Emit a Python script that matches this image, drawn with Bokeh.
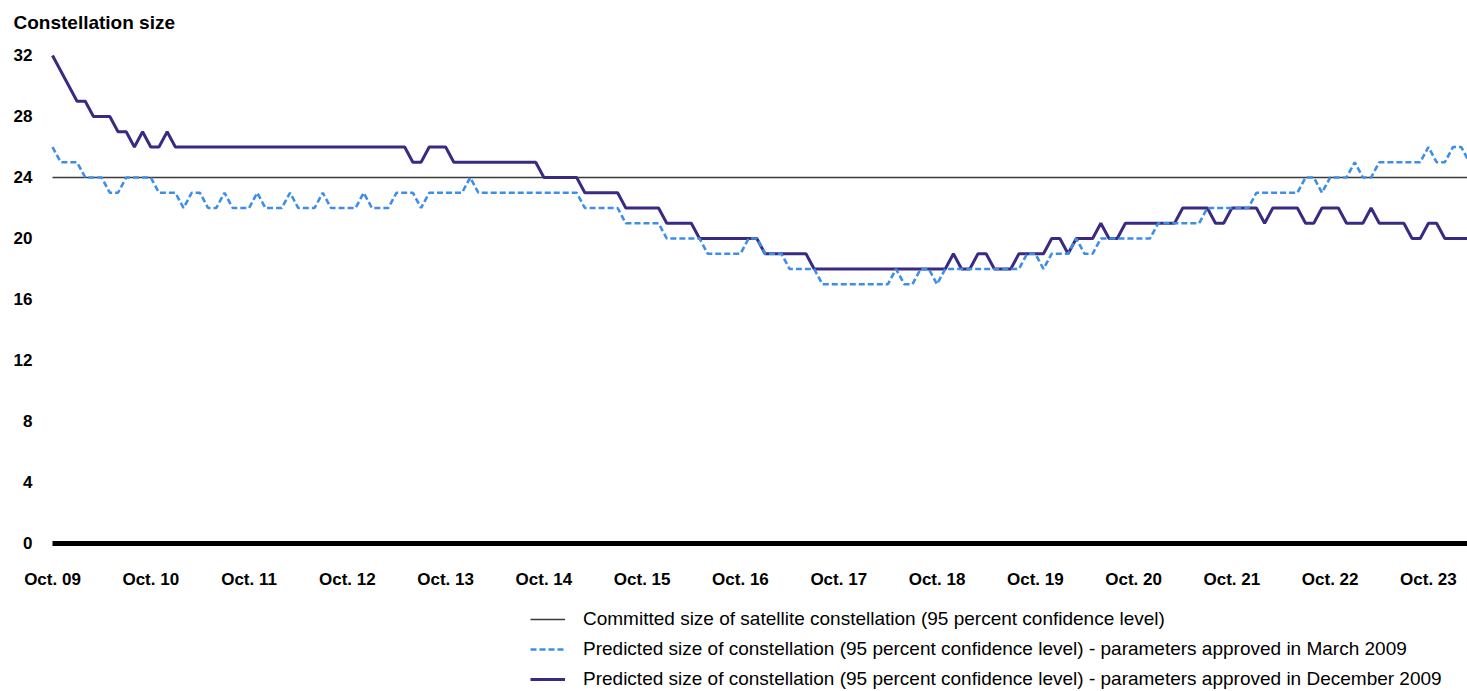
from bokeh.plotting import figure
from bokeh.models import Legend, LegendItem, Range1d
from bokeh.core.properties import value
from bokeh.embed import file_html
from bokeh.resources import INLINE

# ---- data (monthly, month 0 = October 2009) ----
tick_months = [0, 12, 24, 36, 48, 60, 72, 84, 96, 108, 120, 132, 144, 156, 168]
tick_labels = ["Oct. 09", "Oct. 10", "Oct. 11", "Oct. 12", "Oct. 13", "Oct. 14",
               "Oct. 15", "Oct. 16", "Oct. 17", "Oct. 18", "Oct. 19", "Oct. 20",
               "Oct. 21", "Oct. 22", "Oct. 23"]
y_ticks = [0, 4, 8, 12, 16, 20, 24, 28, 32]

committed_size = 24
baseline_level = 0

december_2009 = [
    32, 31, 30, 29, 29, 28, 28, 28, 27, 27,
    26, 27, 26, 26, 27, 26, 26, 26, 26, 26,
    26, 26, 26, 26, 26, 26, 26, 26, 26, 26,
    26, 26, 26, 26, 26, 26, 26, 26, 26, 26,
    26, 26, 26, 26, 25, 25, 26, 26, 26, 25,
    25, 25, 25, 25, 25, 25, 25, 25, 25, 25,
    24, 24, 24, 24, 24, 23, 23, 23, 23, 23,
    22, 22, 22, 22, 22, 21, 21, 21, 21, 20,
    20, 20, 20, 20, 20, 20, 20, 19, 19, 19,
    19, 19, 19, 18, 18, 18, 18, 18, 18, 18,
    18, 18, 18, 18, 18, 18, 18, 18, 18, 18,
    19, 18, 18, 19, 19, 18, 18, 18, 19, 19,
    19, 19, 20, 20, 19, 20, 20, 20, 21, 20,
    20, 21, 21, 21, 21, 21, 21, 21, 22, 22,
    22, 22, 21, 21, 22, 22, 22, 22, 21, 22,
    22, 22, 22, 21, 21, 22, 22, 22, 21, 21,
    21, 22, 21, 21, 21, 21, 20, 20, 21, 21,
    20, 20, 20, 20,
]

march_2009 = [
    26, 25, 25, 25, 24, 24, 24, 23, 23, 24,
    24, 24, 24, 23, 23, 23, 22, 23, 23, 22,
    22, 23, 22, 22, 22, 23, 22, 22, 22, 23,
    22, 22, 22, 23, 22, 22, 22, 22, 23, 22,
    22, 22, 23, 23, 23, 22, 23, 23, 23, 23,
    23, 24, 23, 23, 23, 23, 23, 23, 23, 23,
    23, 23, 23, 23, 23, 22, 22, 22, 22, 22,
    21, 21, 21, 21, 21, 20, 20, 20, 20, 20,
    19, 19, 19, 19, 19, 20, 20, 19, 19, 19,
    18, 18, 18, 18, 17, 17, 17, 17, 17, 17,
    17, 17, 17, 18, 17, 17, 18, 18, 17, 18,
    18, 18, 18, 18, 18, 18, 18, 18, 18, 19,
    19, 18, 19, 19, 19, 20, 19, 19, 20, 20,
    20, 20, 20, 20, 20, 21, 21, 21, 21, 21,
    21, 22, 22, 22, 22, 22, 22, 23, 23, 23,
    23, 23, 23, 24, 24, 23, 24, 24, 24, 25,
    24, 24, 25, 25, 25, 25, 25, 25, 26, 25,
    25, 26, 26, 25,
]

months = list(range(len(december_2009)))

legend_labels = [
    "Committed size of satellite constellation (95 percent confidence level)",
    "Predicted size of constellation (95 percent confidence level) - parameters approved in March 2009",
    "Predicted size of constellation (95 percent confidence level) - parameters approved in December 2009",
]

FONT = "Liberation Sans"

# frame covers the whole canvas below the title; month 0 sits 52 px from the left,
# y=32 at 55 px and y=0 at 543 px from the top
p = figure(width=1467, height=691, output_backend="svg", toolbar_location=None,
           x_range=Range1d(-6.349, 172.77), y_range=Range1d(-9.705, 33.508),
           x_axis_location=None, y_axis_location=None,
           min_border_left=0, min_border_right=0, min_border_top=32,
           min_border_bottom=0, title="Constellation size")

p.background_fill_color = "white"
p.border_fill_color = "white"
p.outline_line_color = None
p.grid.visible = False

p.title.text_font = FONT
p.title.text_font_size = "19px"
p.title.text_font_style = "bold"
p.title.text_color = "black"
p.title.align = "left"
p.title.offset = 13
p.title.standoff = 0

# thick zero baseline starting at the first month
p.line([months[0], months[-1]], [baseline_level, baseline_level],
       line_color="black", line_width=5)

# x tick labels under the baseline
p.text(x=tick_months, y=[baseline_level] * len(tick_months), text=tick_labels,
       y_offset=36, text_align="center", text_baseline="middle",
       text_font=value(FONT), text_font_size="17px", text_font_style="bold",
       text_color="black")

# y tick labels left of the first month
p.text(x=[months[0]] * len(y_ticks), y=y_ticks, text=[str(t) for t in y_ticks],
       x_offset=-20, text_align="right", text_baseline="middle",
       text_font=value(FONT), text_font_size="17px", text_font_style="bold",
       text_color="black")

r_commit = p.line([months[0], months[-1]], [committed_size, committed_size],
                  line_color="#3a3a3a", line_width=1.5)
r_dec = p.line(months, december_2009, line_color="#3b2b80", line_width=3)
r_mar = p.line(months, march_2009, line_color="#3d8ee6", line_width=2.6,
               line_dash="6 3")

legend = Legend(items=[
    LegendItem(label=legend_labels[0], renderers=[r_commit]),
    LegendItem(label=legend_labels[1], renderers=[r_mar]),
    LegendItem(label=legend_labels[2], renderers=[r_dec]),
], location=(530, 1))
legend.padding = 0
legend.margin = 0
legend.spacing = 8
legend.label_height = 22
legend.glyph_height = 22
legend.glyph_width = 35
legend.label_standoff = 18
legend.border_line_color = None
legend.background_fill_alpha = 0
legend.label_text_font = FONT
legend.label_text_font_size = "19px"
legend.label_text_color = "black"
p.add_layout(legend)

open("out.html", "w").write(file_html(p, INLINE))
